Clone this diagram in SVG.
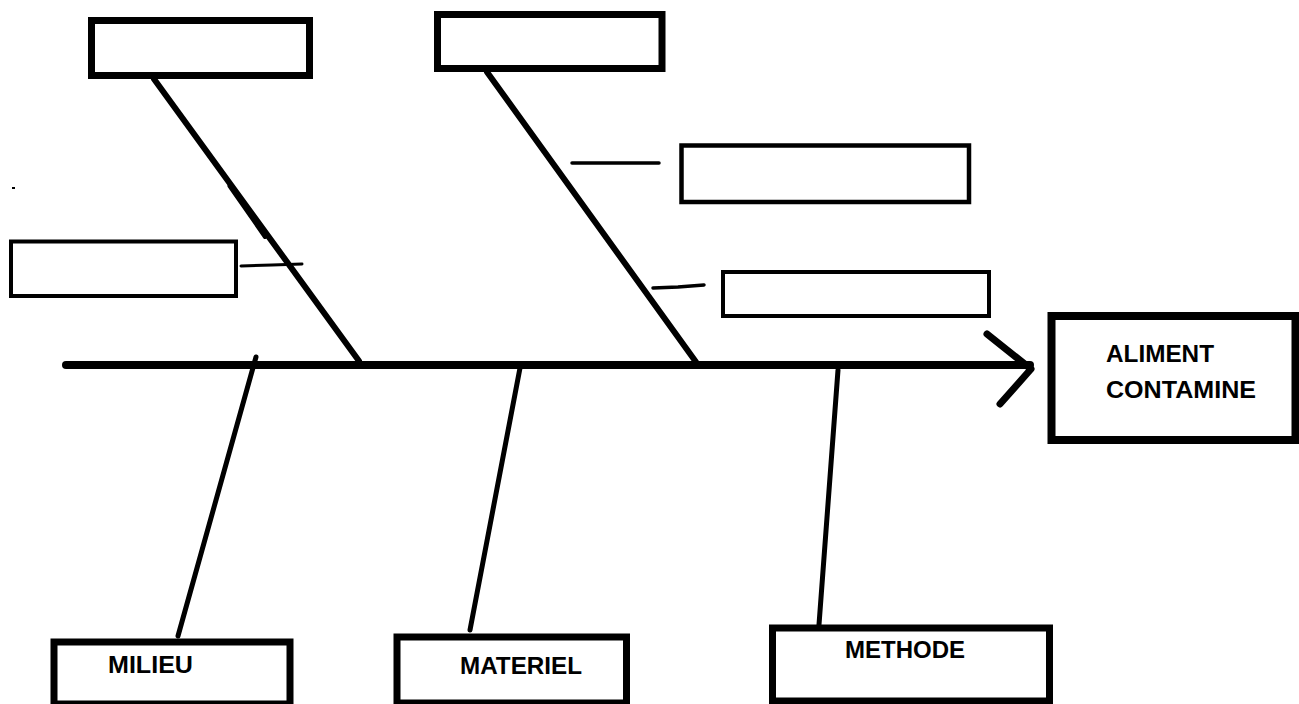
<svg xmlns="http://www.w3.org/2000/svg" width="1299" height="704" viewBox="0 0 1299 704">
<style>
.box{fill:#fff;stroke:#000}
.ln{stroke:#000;fill:none;stroke-linecap:round;stroke-linejoin:round}
.lbl{font-family:"Liberation Sans",Arial,sans-serif;font-weight:bold;font-size:23px;fill:#000}
</style>
<rect width="1299" height="704" fill="#fff"/>
<g id="connectors">
<line class="ln" x1="66" y1="365" x2="1030" y2="365" stroke-width="8"/>
<polyline class="ln" points="987,334 1031,369 1000,404" stroke-width="7"/>
<line class="ln" x1="154" y1="79" x2="359" y2="361" stroke-width="6"/>
<line class="ln" x1="229.5" y1="186" x2="265" y2="237" stroke-width="4" stroke-linecap="butt"/>
<line class="ln" x1="487" y1="72" x2="696" y2="362" stroke-width="6"/>
<line class="ln" x1="256" y1="357" x2="178" y2="636" stroke-width="5"/>
<line class="ln" x1="520" y1="368" x2="470" y2="630" stroke-width="5"/>
<line class="ln" x1="838" y1="370" x2="818" y2="638" stroke-width="5"/>
<polyline class="ln" points="241,266 272,265 302,264" stroke-width="3" stroke-linecap="butt"/>
<line class="ln" x1="572" y1="163" x2="659" y2="163" stroke-width="3.5" stroke-linecap="butt"/>
<polyline class="ln" points="653,288 678,287 704,285" stroke-width="3.5" stroke-linecap="butt"/>
<rect x="12" y="187" width="3" height="2" fill="#000"/>
</g>
<g id="box-top-left"><rect class="box" x="91.5" y="20.5" width="218" height="55" stroke-width="7"/></g>
<g id="box-top-mid"><rect class="box" x="437.5" y="14.5" width="224.5" height="54" stroke-width="7"/></g>
<g id="box-left"><rect class="box" x="11" y="241.5" width="225" height="54.5" stroke-width="4"/></g>
<g id="box-right-1"><rect class="box" x="681.5" y="145.5" width="287.5" height="56.5" stroke-width="4.5"/></g>
<g id="box-right-2"><rect class="box" x="723" y="272" width="266" height="44" stroke-width="4"/></g>
<g id="effect">
<rect class="box" x="1051.5" y="316" width="244" height="124" stroke-width="8"/>
<text class="lbl" x="1106" y="362" textLength="108" lengthAdjust="spacingAndGlyphs">ALIMENT</text>
<text class="lbl" x="1106" y="398" textLength="150" lengthAdjust="spacingAndGlyphs">CONTAMINE</text>
</g>
<g id="milieu">
<rect class="box" x="54" y="642" width="236" height="62" stroke-width="7"/>
<text class="lbl" x="108" y="673" textLength="85" lengthAdjust="spacingAndGlyphs">MILIEU</text>
</g>
<g id="materiel">
<rect class="box" x="397" y="637" width="229.5" height="66" stroke-width="7"/>
<text class="lbl" x="460" y="674" textLength="122" lengthAdjust="spacingAndGlyphs">MATERIEL</text>
</g>
<g id="methode">
<rect class="box" x="772.5" y="628" width="277" height="73" stroke-width="7"/>
<text class="lbl" x="845" y="658" textLength="120" lengthAdjust="spacingAndGlyphs">METHODE</text>
</g>
</svg>
